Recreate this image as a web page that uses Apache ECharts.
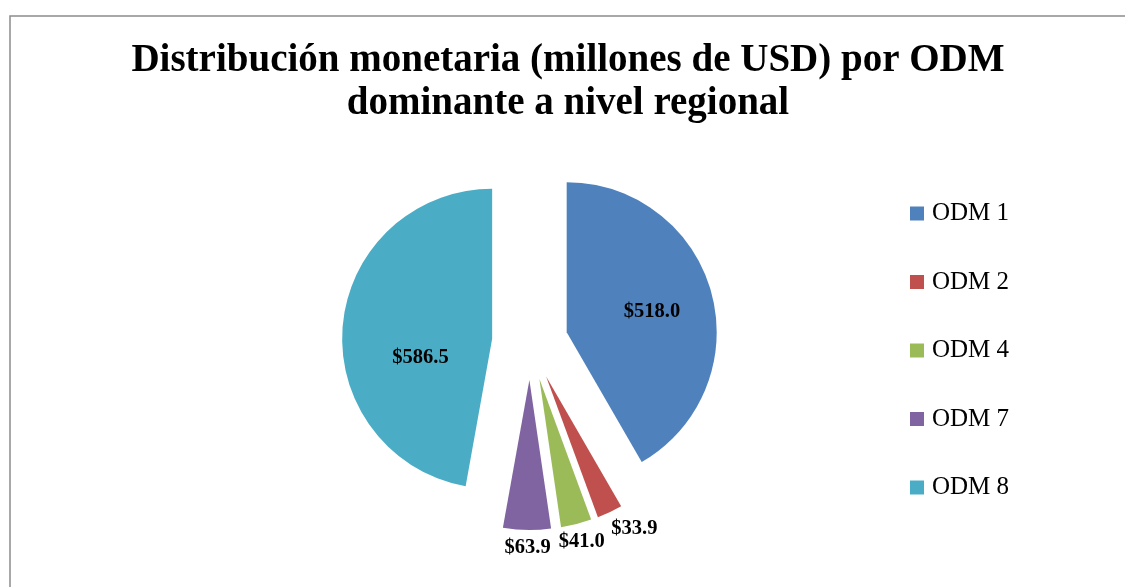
<!DOCTYPE html>
<html>
<head>
<meta charset="utf-8">
<script src="https://cdn.jsdelivr.net/npm/echarts@6/dist/echarts.min.js"></script>
<style>
  html, body { margin: 0; padding: 0; background: #fff; }
  #main { width: 1125px; height: 587px; }
</style>
</head>
<body>
<div id="main"></div>
<script>
// categories and values (millones de USD)
var categories = ['ODM 1', 'ODM 2', 'ODM 4', 'ODM 7', 'ODM 8'];
var values = [518.0, 33.9, 41.0, 63.9, 586.5];
var sliceColors = ['#4F81BD', '#C0504D', '#9BBB59', '#8064A2', '#4BACC6'];

var total = values.reduce(function (a, b) { return a + b; }, 0);

var pieData = categories.map(function (name, i) {
    var small = values[i] / total < 0.1;   // small slices get their label outside
    return {
        name: name,
        value: values[i],
        selected: true,
        itemStyle: { color: sliceColors[i] },
        select: { itemStyle: { color: sliceColors[i] } },
        label: { position: small ? 'outside' : 'inside' }
    };
});

var dom = document.getElementById('main');
var myChart = echarts.init(dom, null, { renderer: 'canvas' });
var option = {
    backgroundColor: '#fff',
    animation: false,
    title: {
        text: 'Distribución monetaria (millones de USD) por ODM\ndominante a nivel regional',
        left: 568,
        textAlign: 'center',
        top: 39,
        padding: 0,
        textStyle: {
            fontFamily: 'Liberation Serif',
            fontWeight: 'bold',
            fontSize: 39,
            lineHeight: 43,
            color: '#000'
        }
    },
    legend: {
        orient: 'vertical',
        left: 910,
        top: 201,
        padding: 0,
        itemWidth: 14,
        itemHeight: 14,
        itemGap: 43.5,
        icon: 'rect',
        selectedMode: false,
        data: categories,
        textStyle: {
            fontFamily: 'Liberation Serif',
            fontSize: 25,
            lineHeight: 25,
            color: '#000',
            padding: [0, 0, 0, 3]
        }
    },
    graphic: [
        {
            type: 'rect',
            silent: true,
            shape: { x: 10, y: 16, width: 1300, height: 800 },
            style: { fill: 'none', stroke: '#8c8c8c', lineWidth: 1.5 }
        }
    ],
    series: [
        {
            name: 'ODM',
            type: 'pie',
            center: [530, 342],
            radius: 150,
            startAngle: 90,
            clockwise: true,
            selectedMode: 'multiple',
            selectedOffset: 38,
            avoidLabelOverlap: false,
            emphasis: { disabled: true },
            label: {
                show: true,
                formatter: function (p) { return '$' + p.value.toFixed(1); },
                fontFamily: 'Liberation Serif',
                fontWeight: 'bold',
                fontSize: 20.5,
                color: '#000'
            },
            labelLine: { show: false, length: 18, length2: 0 },
            labelLayout: function (params) {
                var i = params.dataIndex;
                if (values[i] / total < 0.1) {
                    // centre the outside labels like Excel's best fit
                    return { align: 'center', dx: i === 1 ? 12 : (i === 3 ? 6 : -4) };
                }
                if (i === 4) {
                    return { dx: 6, dy: 26 };
                }
                return { dx: 10 };
            },
            data: pieData
        }
    ]
};
myChart.setOption(option, true);
</script>
</body>
</html>
